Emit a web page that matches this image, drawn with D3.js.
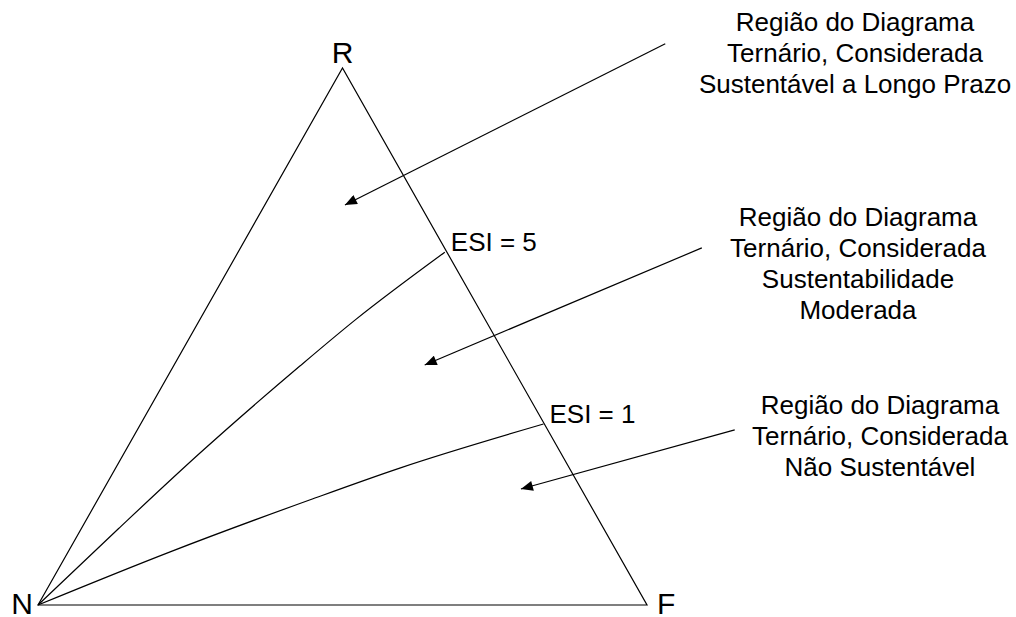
<!DOCTYPE html>
<html>
<head>
<meta charset="utf-8">
<script src="https://cdn.jsdelivr.net/npm/d3@7"></script>
<style>
  html, body { margin: 0; padding: 0; background: #fff; }
  svg { display: block; }
  text { font-family: "Liberation Sans", Arial, sans-serif; fill: #000; }
</style>
</head>
<body>
<svg id="chart" width="1016" height="617"></svg>
<script>
// triangle vertices in unit coords (base N->F, apex R)
const vertexNames = ["N", "R", "F"];
const vertexPts = [[0, 0], [0.5, 1], [1, 0]];

// ESI curves (unit coords)
const esi5Pts = [[0, 0], [0.132, 0.142], [0.266, 0.283], [0.430, 0.445], [0.521, 0.531], [0.668, 0.657]];
const esi1Pts = [[0, 0], [0.217, 0.099], [0.447, 0.196], [0.594, 0.255], [0.830, 0.337]];
const esiLabels = ["ESI = 5", "ESI = 1"];

// arrows: [from, to]
const arrows = [
  [[1.030, 1.045], [0.504, 0.745]],
  [[1.090, 0.665], [0.635, 0.447]],
  [[1.144, 0.326], [0.793, 0.216]]
];

const regionTexts = [
  ["Região do Diagrama", "Ternário, Considerada", "Sustentável a Longo Prazo"],
  ["Região do Diagrama", "Ternário, Considerada", "Sustentabilidade", "Moderada"],
  ["Região do Diagrama", "Ternário, Considerada", "Não Sustentável"]
];

const svg = d3.select("#chart");

const x = d3.scaleLinear().domain([0, 1]).range([38, 647]);
const y = d3.scaleLinear().domain([0, 1]).range([605, 68]);

svg.append("defs").append("marker")
  .attr("id", "head")
  .attr("viewBox", "0 0 12 10")
  .attr("refX", 12).attr("refY", 5)
  .attr("markerWidth", 13).attr("markerHeight", 10)
  .attr("markerUnits", "userSpaceOnUse")
  .attr("orient", "auto")
  .append("path")
  .attr("d", "M0,0 L12,5 L0,10 Z")
  .attr("fill", "#000");

// triangle
svg.append("path")
  .attr("d", d3.line().x(d => x(d[0])).y(d => y(d[1]))(vertexPts) + "Z")
  .attr("fill", "none")
  .attr("stroke", "#000")
  .attr("stroke-width", 1.2);

const curve = d3.line().x(d => x(d[0])).y(d => y(d[1])).curve(d3.curveMonotoneX);

svg.selectAll(".esi")
  .data([esi5Pts, esi1Pts])
  .join("path")
  .attr("class", "esi")
  .attr("d", curve)
  .attr("fill", "none")
  .attr("stroke", "#000")
  .attr("stroke-width", 1.2);

svg.selectAll(".esi-label")
  .data([esi5Pts, esi1Pts])
  .join("text")
  .attr("class", "esi-label")
  .attr("x", d => x(d[d.length - 1][0]) + 6)
  .attr("y", d => y(d[d.length - 1][1]) - 1)
  .attr("font-size", 26)
  .text((d, i) => esiLabels[i]);

// vertex labels
svg.append("text").attr("x", x(0.5)).attr("y", y(1) - 5)
  .attr("text-anchor", "middle").attr("font-size", 30).text(vertexNames[1]);
svg.append("text").attr("x", x(0) - 5).attr("y", y(0) + 9)
  .attr("text-anchor", "end").attr("font-size", 30).text(vertexNames[0]);
svg.append("text").attr("x", x(1) + 10).attr("y", y(0) + 9)
  .attr("text-anchor", "start").attr("font-size", 30).text(vertexNames[2]);

// arrows
svg.selectAll(".arrow")
  .data(arrows)
  .join("line")
  .attr("class", "arrow")
  .attr("x1", d => x(d[0][0])).attr("y1", d => y(d[0][1]))
  .attr("x2", d => x(d[1][0])).attr("y2", d => y(d[1][1]))
  .attr("stroke", "#000")
  .attr("stroke-width", 1.2)
  .attr("marker-end", "url(#head)");

// region descriptions
const blockPos = [[855, 31], [858, 226], [880, 414]];
regionTexts.forEach((lines, i) => {
  svg.append("text")
    .attr("x", blockPos[i][0])
    .attr("y", blockPos[i][1])
    .attr("text-anchor", "middle")
    .attr("font-size", 26)
    .selectAll("tspan")
    .data(lines)
    .join("tspan")
    .attr("x", blockPos[i][0])
    .attr("dy", (d, j) => j === 0 ? 0 : 31)
    .text(d => d);
});
</script>
</body>
</html>
